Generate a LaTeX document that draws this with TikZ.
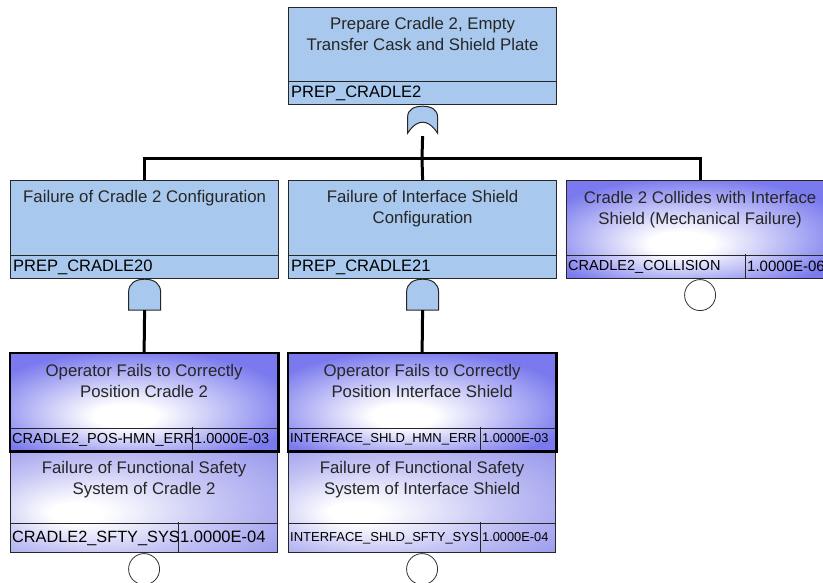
\documentclass[tikz,border=0pt]{standalone}
\usepackage{fontspec}
\setmainfont{Liberation Sans}
\usetikzlibrary{positioning}

\definecolor{gateblue}{HTML}{A8C8EE}
\definecolor{eventblue}{HTML}{7A7AEE}
\definecolor{eventpale}{HTML}{9494EC}
\pgfdeclareradialshading{evblue}{\pgfpoint{-4bp}{-8bp}}{color(0bp)=(white);
  color(6bp)=(white); color(30bp)=(eventblue); color(50bp)=(eventblue)}
\pgfdeclareradialshading{evpale}{\pgfpoint{-14bp}{-6bp}}{color(0bp)=(white);
  color(5bp)=(white); color(22bp)=(eventpale!55!white); color(40bp)=(eventpale);
  color(50bp)=(eventpale)}

\begin{document}
\begin{tikzpicture}[x=1pt, y=-1pt, box/.style={ draw=black!85,
    line width=1.2pt, anchor=north west, inner sep=0pt },
  gatebox/.style={ box, fill=gateblue, minimum width=268pt,
    minimum height=#1 }, eventbox/.style={ box, shading=#1,
    minimum width=267pt }, boxtitle/.style={ align=center,
    inner sep=0pt, text=black!85, font=\fontsize{16.8}{21}\selectfont },
  idtext/.style={ anchor=west, inner sep=0pt,
    font=\fontsize{#1}{#1}\selectfont }, divider/.style={
    draw=black!85, line width=0.9pt }, tree/.style={ line width=3pt },
  gateshape/.style={ draw=black!85, line width=1pt, fill=gateblue },
  basicev/.style={ circle, draw=black!80, fill=white,
    line width=0.8pt, minimum size=31pt, inner sep=0pt } ]
  \clip (0,0) rectangle (823,582);

  % gates
  \node[gatebox=97pt] (top) at (288,7) {};
  \node[boxtitle, below=10pt of top.north] {Prepare Cradle 2, Empty\\Transfer Cask and Shield Plate};
  \foreach \g/\x/\txt in {g20/10/{Failure of Cradle 2 Configuration},
    g21/288/{Failure of Interface Shield\\Configuration}} {
    \node[gatebox=98pt] (\g) at (\x,180) {};
    \node[boxtitle, below=10pt of \g.north] {\txt};
  }
  \foreach \g/\id in {top/PREP\_CRADLE2,g20/PREP\_CRADLE20,g21/PREP\_CRADLE21} {
    \draw[divider] ([yshift=24pt]\g.south west) -- ([yshift=24pt]\g.south east);
    \node[idtext=16.5] at ([xshift=3pt,yshift=12pt]\g.south west) {\id};
  }

  % basic events
  \foreach \n/\x/\y/\h/\s/\v/\col/\txt/\id/\fs/\val/\vs in {
    1/10/353/97/23/192/evblue/{Operator Fails to Correctly\\Position Cradle 2}/{CRADLE2\_POS-HMN\_ERR}/14.5/{1.0000E-03}/14.5,
    2/10/450/102/30/178/evpale/{Failure of Functional Safety\\System of Cradle 2}/{CRADLE2\_SFTY\_SYS}/16.3/{1.0000E-04}/16.5,
    3/288/353/97/23/480/evblue/{Operator Fails to Correctly\\Position Interface Shield}/{INTERFACE\_SHLD\_HMN\_ERR}/13/{1.0000E-03}/12.8,
    4/288/450/102/30/480/evpale/{Failure of Functional Safety\\System of Interface Shield}/{INTERFACE\_SHLD\_SFTY\_SYS}/13/{1.0000E-04}/12.8,
    5/566/180/98/24/745/evblue/{Cradle 2 Collides with Interface\\Shield (Mechanical Failure)}/{CRADLE2\_COLLISION}/14.5/{1.0000E-06}/15} {
    \node[eventbox=\col, minimum height=\h pt] (e\n) at (\x,\y) {};
    \node[boxtitle, below=11pt of e\n.north] {\txt};
    \draw[divider] ([yshift=\s pt]e\n.south west) -- ([yshift=\s pt]e\n.south east);
    \draw[divider] (\v,\y+\h-\s) -- (\v,\y+\h);
    \node[idtext=\fs] at ([xshift=2pt,yshift=\s pt/2]e\n.south west) {\id};
    \node[idtext=\vs] at (\v+2,\y+\h-\s/2) {\val};
  }
  \draw[line width=2.6pt] (e1.north west) rectangle (e1.south east);
  \draw[line width=2.6pt] (e3.north west) rectangle (e3.south east);

  \foreach \n in {2,4,5}
  \node[basicev, below=0pt of e\n.south] (c\n) {};

  % gate symbols
  \draw[gateshape, shift={(top.south)}] (-15,28) -- (-15,12)
    .. controls (-15,4) and (-8,1) .. (0,1) .. controls (8,1) and (15,4) .. (15,12)
    -- (15,28) .. controls (9,19) and (4,17) .. (0,17)
    .. controls (-4,17) and (-9,19) .. (-15,28) -- cycle;
  \coordinate (or0) at ([yshift=-31pt]top.south);
  \foreach \g in {g20,g21} {
    \draw[gateshape, shift={(\g.south)}] (-16,31) -- (-16,13)
      .. controls (-16,4) and (-9,0) .. (0,0) .. controls (9,0) and (16,4) .. (16,13)
      -- (16,31) -- cycle;
    \coordinate (and\g) at ([yshift=-31pt]\g.south);
  }

  % connectors
  \coordinate (bus) at (422,158);
  \draw[tree] (or0) -- (bus);
  \draw[tree] (g20.north) |- (e5.north |- bus) -- (e5.north);
  \draw[tree] (bus) -- (g21.north);
  \draw[tree] (andg20) -- (e1.north);
  \draw[tree] (andg21) -- (e3.north);
\end{tikzpicture}
\end{document}
